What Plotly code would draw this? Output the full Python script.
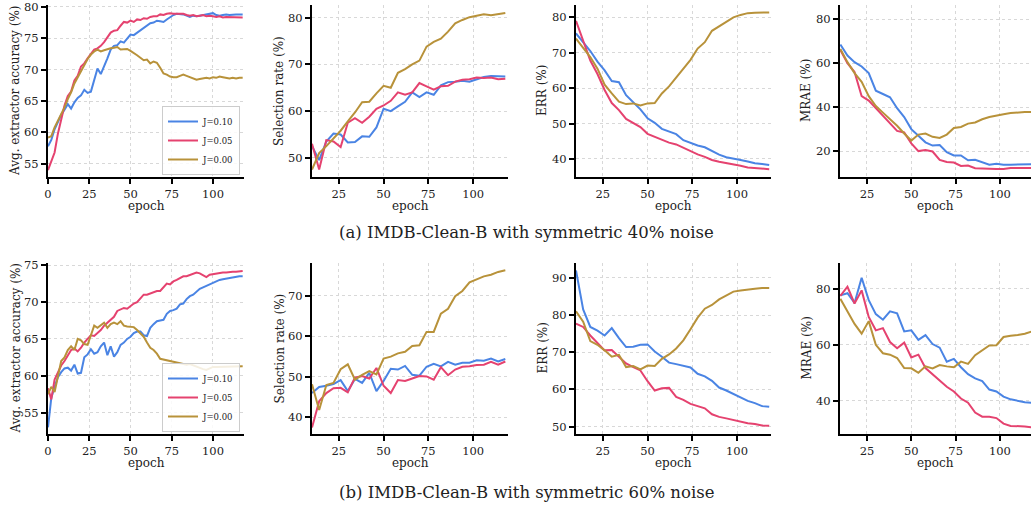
import plotly.graph_objects as go

W, H = 1031, 508
FONT = "DejaVu Serif"
C_BLUE = "#4a84e4"
C_PINK = "#e5426f"
C_GOLD = "#b8923a"
labels = ["J=0.10", "J=0.05", "J=0.00"]
colors = [C_BLUE, C_PINK, C_GOLD]

# ---------- dense epochs (extractor accuracy) ----------
ep_dense = list(range(0, 120, 2))

acc40_j10 = [57.8, 58.8, 60.5, 61.8, 62.8, 63.6, 64.5, 63.8, 64.8, 65.5, 65.9, 66.8, 66.3, 66.5, 68.2,
             70.2, 69.3, 70.5, 71.8, 73.2, 73.8, 73.9, 74.5, 74.3, 75.0, 75.6, 75.5, 75.9, 76.2, 76.7,
             77.0, 77.4, 77.5, 77.8, 77.7, 77.6, 78.0, 78.4, 78.7, 78.9, 78.9, 78.8, 78.6, 78.4, 78.6,
             78.5, 78.6, 78.7, 78.8, 78.9, 79.0, 78.7, 78.6, 78.7, 78.8, 78.7, 78.8, 78.8, 78.8, 78.8]
acc40_j05 = [54.0, 55.5, 56.8, 59.8, 62.2, 64.3, 65.8, 66.5, 68.3, 69.0, 70.5, 71.0, 71.8, 72.6, 73.2,
             73.4, 73.8, 74.4, 75.1, 75.9, 76.2, 76.3, 77.0, 77.6, 77.5, 77.8, 77.6, 78.0, 77.9, 78.2,
             78.1, 78.4, 78.5, 78.5, 78.8, 78.7, 78.9, 79.0, 78.9, 78.9, 78.8, 78.9, 78.7, 78.6, 78.7,
             78.5, 78.6, 78.7, 78.5, 78.6, 78.5, 78.4, 78.5, 78.3, 78.4, 78.4, 78.3, 78.4, 78.3, 78.3]
acc40_j00 = [59.2, 59.4, 60.8, 61.8, 62.8, 64.0, 65.3, 66.4, 67.8, 68.8, 69.8, 70.8, 71.7, 72.4, 72.9,
             73.2, 72.9, 73.1, 73.3, 73.4, 73.5, 73.6, 73.2, 73.3, 73.3, 73.0, 72.7, 72.3, 71.9, 71.5,
             71.6, 71.0, 71.3, 71.1, 70.3, 69.4, 69.2, 68.9, 68.8, 68.8, 69.0, 69.2, 69.0, 68.8, 68.6,
             68.4, 68.5, 68.6, 68.7, 68.6, 68.8, 68.7, 68.9, 68.8, 68.7, 68.6, 68.7, 68.6, 68.7, 68.7]

acc60_j10 = [53.0, 57.0, 58.5, 59.8, 60.5, 61.0, 61.1, 60.7, 61.5, 60.3, 60.4, 62.5, 62.9, 63.6, 63.0,
             63.2, 64.0, 64.5, 62.8, 64.0, 62.6, 63.2, 64.2, 64.5, 65.0, 65.3, 65.8, 66.0, 66.0, 65.5,
             65.4, 66.5, 67.0, 67.4, 67.5, 67.6, 68.4, 68.8, 68.9, 69.1, 69.7, 69.8, 70.4, 70.8, 71.0,
             71.4, 71.8, 72.0, 72.2, 72.5, 72.6, 72.8, 73.0, 73.1, 73.2, 73.3, 73.4, 73.5, 73.5, 73.5]
acc60_j05 = [58.3, 56.8, 59.5, 60.5, 61.4, 62.0, 62.8, 63.5, 63.7, 63.3, 63.8, 64.5, 65.0, 65.5, 65.4,
             65.8, 66.2, 66.8, 67.2, 67.5, 68.0, 68.8, 69.0, 69.2, 69.1, 69.5, 69.8, 70.0, 70.5, 71.0,
             71.0, 71.2, 71.3, 71.5, 71.5, 72.0, 72.5, 72.4, 72.8, 73.0, 73.2, 73.5, 73.5, 73.7, 73.8,
             74.0, 73.9, 73.6, 73.4, 73.7, 73.8, 73.8, 73.9, 74.0, 74.0, 74.1, 74.1, 74.1, 74.1, 74.2]
acc60_j00 = [57.5, 58.5, 57.8, 60.0, 62.0, 62.5, 63.5, 64.0, 63.5, 65.0, 64.8, 64.3, 64.2, 65.5, 66.8,
             66.5, 66.8, 67.2, 66.5, 67.0, 67.2, 67.0, 67.4, 66.8, 66.7, 66.6, 66.6, 66.2, 65.8, 65.3,
             64.5, 63.8, 63.5, 63.0, 62.3, 62.2, 62.0, 62.0, 61.9, 61.8, 61.6, 61.5, 61.5, 61.6, 61.4,
             61.2, 61.0, 60.9, 60.8, 61.0, 61.2, 61.2, 61.2, 61.2, 61.2, 61.3, 61.3, 61.3, 61.3, 61.3]

# ---------- sparse epochs (evaluation) ----------
ep_eval = list(range(10, 119, 4))

sel40_j10 = [52.5, 49.5, 53.5, 55.2, 55.0, 53.3, 53.4, 54.6, 54.5, 56.5, 60.5, 60.0, 61.0, 62.0,
             64.0, 63.0, 64.0, 63.5, 65.5, 66.2, 66.3, 66.5, 66.3, 66.8, 67.3, 67.5, 67.5, 67.4]
sel40_j05 = [53.0, 47.5, 53.8, 53.5, 52.3, 57.5, 58.5, 57.5, 58.8, 60.5, 61.2, 62.2, 64.0, 63.5,
             64.0, 66.0, 65.3, 64.6, 65.3, 65.4, 66.3, 66.7, 66.8, 67.2, 67.1, 67.2, 66.8, 66.9]
sel40_j00 = [47.5, 51.0, 52.5, 54.2, 55.8, 57.8, 59.7, 61.9, 62.0, 63.8, 65.4, 65.0, 68.2, 69.0,
             70.0, 70.8, 73.8, 74.8, 75.5, 77.0, 78.8, 79.5, 80.1, 80.4, 80.7, 80.5, 80.8, 81.0]

err40_j10 = [75.5, 73.0, 70.5, 67.5, 65.0, 62.0, 61.7, 58.0, 56.0, 54.0, 51.5, 50.2, 48.5, 47.8,
             47.0, 45.3, 44.5, 43.8, 43.3, 42.3, 41.2, 40.5, 40.2, 39.7, 39.3, 38.8, 38.6, 38.3]
err40_j05 = [79.0, 73.5, 67.8, 64.0, 59.5, 55.8, 53.8, 51.3, 50.2, 49.0, 47.1, 46.3, 45.3, 44.6,
             44.1, 43.1, 42.3, 41.3, 40.6, 39.7, 39.2, 38.9, 38.5, 38.1, 37.6, 37.5, 37.4, 37.1]
err40_j00 = [74.0, 71.5, 68.8, 65.5, 61.0, 58.5, 56.2, 55.5, 55.7, 55.1, 55.7, 55.8, 58.5, 60.5,
             63.0, 65.5, 68.0, 71.2, 73.0, 76.2, 77.5, 78.6, 80.0, 80.7, 81.2, 81.3, 81.3, 81.4]

mrae40_j10 = [68.5, 63.5, 60.5, 58.5, 55.5, 47.5, 46.0, 44.5, 39.5, 35.5, 30.0, 27.0, 24.0, 22.5,
              22.8, 19.5, 18.0, 18.0, 15.8, 16.0, 15.0, 13.8, 14.2, 13.8, 13.8, 13.8, 14.0, 14.0]
mrae40_j05 = [66.0, 60.0, 56.0, 45.0, 43.0, 39.5, 36.0, 33.0, 29.2, 28.5, 23.5, 20.0, 20.5, 19.8,
              16.0, 15.0, 14.8, 13.2, 13.4, 12.2, 12.0, 12.0, 11.8, 11.8, 12.3, 12.3, 12.3, 12.3]
mrae40_j00 = [66.5, 60.5, 55.5, 51.5, 45.0, 40.5, 37.5, 34.5, 31.5, 28.0, 24.8, 27.5, 28.0, 26.5,
              26.0, 27.5, 30.5, 31.0, 32.5, 33.0, 34.5, 35.5, 36.3, 36.8, 37.3, 37.6, 37.8, 37.8]

sel60_j10 = [46.0, 47.5, 47.8, 48.2, 49.2, 46.5, 49.5, 48.5, 51.0, 46.5, 49.0, 52.0, 51.8, 52.7,
             50.5, 50.3, 52.5, 53.2, 52.6, 53.7, 53.0, 53.5, 53.5, 54.1, 54.0, 54.5, 53.8, 54.4]
sel60_j05 = [37.5, 44.0, 46.0, 47.2, 47.3, 46.2, 49.8, 50.2, 49.6, 52.2, 47.8, 46.0, 49.2, 49.0,
             49.6, 50.2, 50.1, 49.3, 52.4, 50.4, 51.8, 52.5, 52.6, 52.9, 53.0, 53.7, 53.0, 53.8]
sel60_j00 = [48.2, 41.8, 48.0, 48.5, 51.9, 53.1, 49.3, 50.5, 51.4, 50.6, 54.5, 55.0, 55.8, 56.2,
             57.6, 57.8, 61.1, 61.1, 65.6, 66.8, 69.9, 71.2, 73.3, 74.1, 74.8, 75.2, 75.9, 76.3]

err60_j10 = [92.0, 81.5, 76.8, 75.8, 74.5, 76.5, 73.8, 71.4, 71.5, 72.0, 72.1, 70.2, 68.8, 67.2,
             66.8, 66.3, 65.9, 64.2, 63.5, 62.3, 60.5, 59.7, 58.8, 57.7, 56.9, 56.3, 55.5, 55.3]
err60_j05 = [77.7, 76.8, 74.5, 72.5, 70.5, 70.6, 68.8, 67.0, 66.0, 65.1, 62.2, 59.7, 60.3, 60.4,
             58.0, 57.2, 56.1, 55.6, 54.9, 53.3, 52.6, 52.2, 51.7, 51.3, 50.9, 50.7, 50.3, 50.2]
err60_j00 = [81.0, 78.2, 73.0, 72.0, 70.5, 68.8, 69.3, 66.0, 66.3, 65.4, 66.4, 66.3, 68.2, 69.4,
             71.0, 73.2, 76.2, 79.3, 81.7, 82.7, 84.2, 85.2, 86.3, 86.6, 86.9, 87.1, 87.3, 87.3]

mrae60_j10 = [77.7, 78.5, 75.0, 84.0, 76.0, 71.0, 69.0, 72.0, 71.3, 64.8, 65.2, 61.8, 63.5, 60.3,
              59.0, 54.0, 55.0, 52.0, 49.5, 48.0, 47.0, 44.0, 43.3, 41.5, 40.5, 40.0, 39.5, 39.3]
mrae60_j05 = [77.5, 80.8, 74.8, 79.5, 70.0, 65.2, 66.0, 61.0, 58.8, 60.8, 55.5, 56.5, 51.7, 49.5,
              47.0, 45.0, 43.3, 40.8, 39.3, 35.8, 34.3, 34.3, 33.8, 31.8, 31.0, 31.0, 30.8, 30.5]
mrae60_j00 = [76.5, 72.0, 67.5, 64.0, 68.5, 60.0, 57.0, 56.5, 55.3, 51.7, 51.6, 50.0, 52.3, 51.6,
              52.8, 52.3, 52.0, 54.0, 53.2, 56.3, 58.0, 59.8, 59.9, 62.8, 63.3, 63.5, 64.0, 64.8]

y_titles = ["Avg. extractor accuracy (%)", "Selection rate (%)", "ERR (%)", "MRAE (%)"]
captions = ["(a) IMDB-Clean-B with symmetric 40% noise", "(b) IMDB-Clean-B with symmetric 60% noise"]

panels = [
    (ep_dense, [acc40_j10, acc40_j05, acc40_j00]),
    (ep_eval, [sel40_j10, sel40_j05, sel40_j00]),
    (ep_eval, [err40_j10, err40_j05, err40_j00]),
    (ep_eval, [mrae40_j10, mrae40_j05, mrae40_j00]),
    (ep_dense, [acc60_j10, acc60_j05, acc60_j00]),
    (ep_eval, [sel60_j10, sel60_j05, sel60_j00]),
    (ep_eval, [err60_j10, err60_j05, err60_j00]),
    (ep_eval, [mrae60_j10, mrae60_j05, mrae60_j00]),
]

# layout geometry (pixels)
col_x = [(48, 244), (312, 508), (576, 771), (840, 1031)]
row_y = [(5, 177), (263, 434)]
x_ranges = [[0, 118.8], [10, 119.5], [10, 119], [9.8, 117.5]]
y_ranges = [[52.9, 80.3], [45.9, 82.7], [34.9, 83.5], [8.2, 86.5],
            [52.1, 75.3], [35.9, 78.1], [48.0, 94.0], [28.1, 89.3]]
y_ticks = [[55, 60, 65, 70, 75, 80], [50, 60, 70, 80], [40, 50, 60, 70, 80], [20, 40, 60, 80],
           [55, 60, 65, 70, 75], [40, 50, 60, 70], [50, 60, 70, 80, 90], [40, 60, 80]]
x_ticks = [[0, 25, 50, 75, 100], [25, 50, 75, 100], [25, 50, 75, 100], [25, 50, 75, 100]]
ytitle_x = [15, 279, 542, 806]
TXT = "#222222"

fig = go.Figure()
layout = dict(
    width=W, height=H, margin=dict(l=0, r=0, t=0, b=0),
    paper_bgcolor="white", plot_bgcolor="white",
    font=dict(family=FONT, color=TXT, size=12),
    annotations=[],
)

for i, (ep, series) in enumerate(panels):
    r, c = divmod(i, 4)
    n = i + 1
    xa = "x" if n == 1 else f"x{n}"
    ya = "y" if n == 1 else f"y{n}"
    for s, (vals, lab, col) in enumerate(zip(series, labels, colors)):
        fig.add_trace(go.Scatter(
            x=ep, y=vals, mode="lines", name=lab,
            line=dict(color=col, width=2),
            xaxis=xa, yaxis=ya, showlegend=(c == 0),
            legend="legend" if r == 0 else "legend2",
        ))
    x0, x1 = col_x[c]
    yt, yb = row_y[r]
    axcommon = dict(
        showline=True, linecolor="black", linewidth=2, mirror=False,
        ticks="outside", ticklen=5, tickwidth=1.5, tickcolor="black",
        showgrid=True, gridcolor="#d8d8d8", griddash="dot", gridwidth=1,
        zeroline=False, tickfont=dict(family=FONT, size=11.5, color=TXT),
        automargin=False, ticklabeloverflow="allow",
    )
    layout[f"xaxis{n}"] = dict(
        axcommon, domain=[x0 / W, x1 / W], anchor=ya, range=x_ranges[c],
        tickmode="array", tickvals=x_ticks[c],
    )
    layout[f"yaxis{n}"] = dict(
        axcommon, domain=[1 - yb / H, 1 - yt / H], anchor=xa, range=y_ranges[i],
        tickmode="array", tickvals=y_ticks[i],
    )
    layout["annotations"].append(dict(
        text="epoch", x=(x0 + x1) / 2 / W, y=1 - (yb + 29) / H, xref="paper", yref="paper",
        showarrow=False, xanchor="center", yanchor="middle",
        font=dict(family=FONT, size=12, color=TXT)))
    layout["annotations"].append(dict(
        text=y_titles[c], x=ytitle_x[c] / W, y=1 - (yt + yb) / 2 / H, xref="paper", yref="paper",
        showarrow=False, xanchor="center", yanchor="middle", textangle=-90,
        font=dict(family=FONT, size=12, color=TXT)))

for r, cap in enumerate(captions):
    layout["annotations"].append(dict(
        text=cap, x=526 / W, y=1 - (232 if r == 0 else 492) / H, xref="paper", yref="paper",
        showarrow=False, xanchor="center", yanchor="middle",
        font=dict(family=FONT, size=16.5, color=TXT)))

leg = dict(bgcolor="rgba(255,255,255,0.85)", bordercolor="#cccccc", borderwidth=1,
           font=dict(family=FONT, size=8.5, color=TXT), xanchor="right", yanchor="bottom",
           tracegroupgap=0, itemwidth=30)
layout["legend"] = dict(leg, x=240 / W, y=1 - 175 / H)
layout["legend2"] = dict(leg, x=240 / W, y=1 - 432 / H)

fig.update_layout(**layout)
fig.write_html("out.html", post_script="document.body.style.margin='0';",
               config={"displayModeBar": False})
